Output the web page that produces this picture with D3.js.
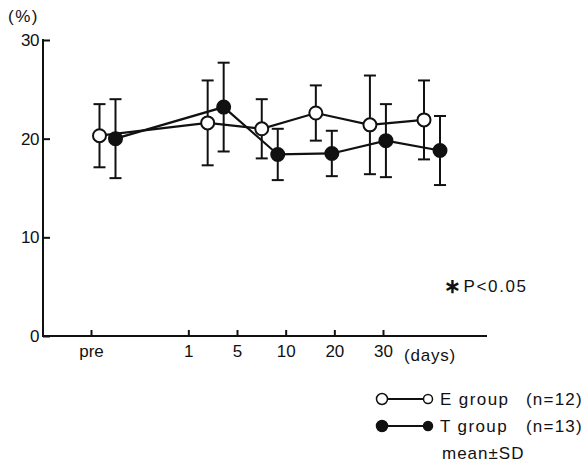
<!DOCTYPE html>
<html>
<head>
<meta charset="utf-8">
<script src="https://cdn.jsdelivr.net/npm/d3@7"></script>
<style>
  body { margin: 0; background: #fff; }
  text { font-family: "Liberation Sans", Arial, sans-serif; fill: #111; }
</style>
</head>
<body>
<div id="chart"></div>
<script>
// time points (pre gets a double gap before day 1)
var days   = ['pre', '1', '5', '10', '20', '30'];
var slots  = [0, 2, 3, 4, 5, 6];

// E group (open circles), mean and SD in %
var e_mean = [20.3, 21.6, 21.0, 22.6, 21.4, 21.9];
var e_sd   = [3.2, 4.3, 3.0, 2.8, 5.0, 4.0];

// T group (filled circles)
var t_mean = [20.0, 23.2, 18.4, 18.5, 19.8, 18.8];
var t_sd   = [4.0, 4.5, 2.6, 2.3, 3.7, 3.5];

var y_ticks = [0, 10, 20, 30];

var chart_width  = 587;
var chart_height = 463;

var svg = d3.select('#chart')
    .append('svg')
    .attr('width', chart_width)
    .attr('height', chart_height);

// scales
var y_scale = d3.scaleLinear().domain([0, 30]).range([336, 40]);
// the original plots the points on a wider spread than its tick marks
var x_scale = d3.scaleLinear().domain([0, 6]).range([107.5, 432]);
var x_tick  = d3.scaleLinear().domain([0, 6]).range([91, 383]);
var offset  = 8;

// y axis
var y_axis = d3.axisLeft(y_scale)
    .tickValues(y_ticks)
    .tickSizeInner(-7)
    .tickSizeOuter(0)
    .tickPadding(4)
    .tickFormat(d3.format('d'));

var gy = svg.append('g')
    .attr('transform', 'translate(43,0)')
    .call(y_axis);
gy.select('.domain').remove();
gy.selectAll('line').attr('stroke', '#111').attr('stroke-width', 2);
gy.selectAll('text')
    .style('font-size', '17px')
    .style('letter-spacing', '-0.5px')
    .attr('fill', '#111');

svg.append('line')
    .attr('x1', 43).attr('x2', 43)
    .attr('y1', y_scale(30) - 1).attr('y2', y_scale(0) + 1)
    .attr('stroke', '#111').attr('stroke-width', 2);

// x axis
var x_axis = d3.axisBottom(x_tick)
    .tickValues(slots)
    .tickSizeInner(-6)
    .tickSizeOuter(0)
    .tickPadding(9)
    .tickFormat(function(d, i){ return days[i]; });

var gx = svg.append('g')
    .attr('transform', 'translate(0,' + y_scale(0) + ')')
    .call(x_axis);
gx.select('.domain').remove();
gx.selectAll('line').attr('stroke', '#111').attr('stroke-width', 2);
gx.selectAll('text').style('font-size', '17px').attr('fill', '#111');

svg.append('line')
    .attr('x1', 42).attr('x2', 487)
    .attr('y1', y_scale(0)).attr('y2', y_scale(0))
    .attr('stroke', '#111').attr('stroke-width', 2);

svg.append('text')
    .attr('x', x_tick(6) + 21)
    .attr('y', y_scale(0) + 25)
    .style('font-size', '17px')
    .style('letter-spacing', '0.8px')
    .text('(days)');

svg.append('text')
    .attr('x', 8)
    .attr('y', 22)
    .style('font-size', '17px')
    .style('letter-spacing', '1.5px')
    .text('(%)');

// build rows for each group
function rows(means, sds, dx){
    return means.map(function(m, i){
        return { x: x_scale(slots[i]) + dx, m: m, sd: sds[i] };
    });
}
var groups = [
    { key: 'E', data: rows(e_mean, e_sd, -offset), fill: '#fff' },
    { key: 'T', data: rows(t_mean, t_sd, offset), fill: '#111' }
];

var line = d3.line()
    .x(function(d){ return d.x; })
    .y(function(d){ return y_scale(d.m); });

// connecting lines
svg.selectAll('path.series')
    .data(groups)
    .enter()
    .append('path')
    .attr('class', 'series')
    .attr('d', function(g){ return line(g.data); })
    .attr('fill', 'none')
    .attr('stroke', '#111')
    .attr('stroke-width', 2.2);

// error bars
var cap = 6;
groups.forEach(function(g){
    var bars = svg.append('g').selectAll('g')
        .data(g.data)
        .enter()
        .append('g');
    bars.append('line')
        .attr('x1', function(d){ return d.x; })
        .attr('x2', function(d){ return d.x; })
        .attr('y1', function(d){ return y_scale(d.m + d.sd); })
        .attr('y2', function(d){ return y_scale(d.m - d.sd); });
    bars.append('line')
        .attr('x1', function(d){ return d.x - cap; })
        .attr('x2', function(d){ return d.x + cap; })
        .attr('y1', function(d){ return y_scale(d.m + d.sd); })
        .attr('y2', function(d){ return y_scale(d.m + d.sd); });
    bars.append('line')
        .attr('x1', function(d){ return d.x - cap; })
        .attr('x2', function(d){ return d.x + cap; })
        .attr('y1', function(d){ return y_scale(d.m - d.sd); })
        .attr('y2', function(d){ return y_scale(d.m - d.sd); });
    bars.selectAll('line')
        .attr('stroke', '#111')
        .attr('stroke-width', 2);
});

// markers
groups.forEach(function(g){
    svg.append('g').selectAll('circle')
        .data(g.data)
        .enter()
        .append('circle')
        .attr('cx', function(d){ return d.x; })
        .attr('cy', function(d){ return y_scale(d.m); })
        .attr('r', 6.5)
        .attr('fill', g.fill)
        .attr('stroke', '#111')
        .attr('stroke-width', 2);
});

// significance note
var note = svg.append('text')
    .attr('x', 444)
    .attr('y', 292)
    .style('font-size', '17px')
    .style('letter-spacing', '1.6px');
note.append('tspan')
    .style('font-size', '20px')
    .style('font-weight', 'bold')
    .attr('dy', 1)
    .text('\u2217');
note.append('tspan')
    .attr('dx', 1)
    .attr('dy', -1)
    .text('P<0.05');

// legend
var legend = [
    { name: 'E group', n: '(n=12)', fill: '#fff', y: 399 },
    { name: 'T group', n: '(n=13)', fill: '#111', y: 426 }
];
var lg = svg.selectAll('g.legend')
    .data(legend)
    .enter()
    .append('g')
    .attr('class', 'legend');
lg.append('line')
    .attr('x1', 382).attr('x2', 428)
    .attr('y1', function(d){ return d.y; })
    .attr('y2', function(d){ return d.y; })
    .attr('stroke', '#111').attr('stroke-width', 2);
lg.append('circle')
    .attr('cx', 382).attr('cy', function(d){ return d.y; })
    .attr('r', 5.5)
    .attr('fill', function(d){ return d.fill; })
    .attr('stroke', '#111').attr('stroke-width', 1.5);
lg.append('circle')
    .attr('cx', 428).attr('cy', function(d){ return d.y; })
    .attr('r', 4.5)
    .attr('fill', function(d){ return d.fill; })
    .attr('stroke', '#111').attr('stroke-width', 1.5);
lg.append('text')
    .attr('x', 440)
    .attr('y', function(d){ return d.y + 6; })
    .style('font-size', '17px')
    .style('letter-spacing', '1.4px')
    .text(function(d){ return d.name; });
lg.append('text')
    .attr('x', 526)
    .attr('y', function(d){ return d.y + 6; })
    .style('font-size', '17px')
    .style('letter-spacing', '1.2px')
    .text(function(d){ return d.n; });

svg.append('text')
    .attr('x', 442)
    .attr('y', 459)
    .style('font-size', '17px')
    .style('letter-spacing', '1px')
    .text('mean\u00b1SD');
</script>
</body>
</html>
